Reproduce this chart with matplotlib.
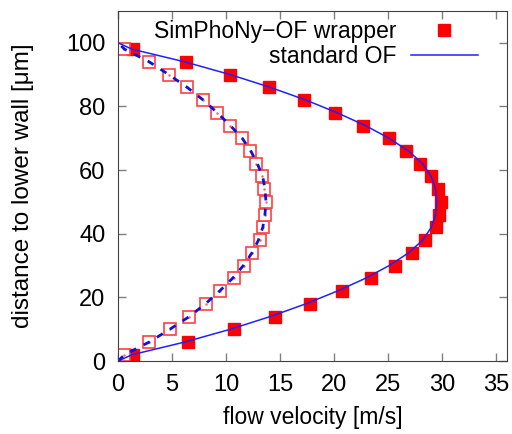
import matplotlib
matplotlib.use("Agg")
import matplotlib.pyplot as plt

plt.rcParams["font.family"] = ["Liberation Sans", "DejaVu Sans"]

# wall distance of the sampled cells [um]
y_pts = [2, 6, 10, 14, 18, 22, 26, 30, 34, 38, 42, 46, 50,
         54, 58, 62, 66, 70, 74, 78, 82, 86, 90, 94, 98]

# SimPhoNy-OF wrapper, fast case (filled squares)
u_fast = [1.4, 6.5, 10.7, 14.5, 17.8, 20.7, 23.4, 25.6, 27.2, 28.4, 29.4, 29.7, 29.9,
          29.6, 29.0, 28.0, 26.7, 25.1, 22.7, 20.1, 17.2, 14.0, 10.4, 6.3, 1.4]
# SimPhoNy-OF wrapper, slow case (open squares)
u_slow = [0.6, 2.9, 4.8, 6.6, 8.1, 9.4, 10.7, 11.7, 12.4, 13.1, 13.4, 13.6, 13.7,
          13.5, 13.3, 12.8, 12.2, 11.5, 10.4, 9.2, 7.9, 6.4, 4.7, 2.9, 0.6]

# standard OF lines (wall values included)
y_line = [0] + y_pts + [100]
u_line_fast = [0.0, 1.3, 6.2, 10.4, 14.1, 17.4, 20.3, 22.9, 25.1, 26.9, 28.2, 29.0, 29.4, 29.5,
               29.4, 29.0, 28.2, 26.9, 25.1, 22.9, 20.3, 17.4, 14.1, 10.4, 6.2, 1.3, 0.0]
u_line_slow = [0.0, 0.6, 2.9, 4.8, 6.6, 8.1, 9.4, 10.6, 11.6, 12.4, 13.0, 13.4, 13.6, 13.7,
               13.6, 13.4, 12.9, 12.3, 11.5, 10.4, 9.2, 7.9, 6.4, 4.7, 2.9, 0.6, 0.0]

fig = plt.figure(figsize=(5.12, 4.34), dpi=100)
ax = fig.add_axes([0.2305, 0.168, 0.7595, 0.8067])

ax.plot(u_fast, y_pts, ls="none", marker="s", ms=8.3, mfc="#ff0000", mec="#ff0000",
        label="SimPhoNy\u2212OF wrapper")
ax.plot(u_slow, y_pts, ls="none", marker="s", ms=8.5, mfc="white", mec="#ff4040",
        mew=1.2)
ax.plot(u_slow, y_pts, ls="none", marker=".", ms=1.5, color="#ff6060")
ax.plot(u_line_fast, y_line, color="#2020ff", lw=1.1, label="standard OF")
ax.plot(u_line_slow, y_line, color="#1010d8", lw=2, ls=(0, (2.5, 3)))

ax.set_xlim(0, 36)
ax.set_ylim(0, 110)
ax.set_xticks(range(0, 36, 5))
ax.set_yticks(range(0, 101, 20))
ax.tick_params(direction="in", length=6, width=1, color="#808080", labelsize=17,
               top=True, right=True, pad=9)
for s in ax.spines.values():
    s.set_color("#404040")

ax.set_xlabel("flow velocity [m/s]", fontsize=16.5)
ax.set_ylabel("distance to lower wall [\u03bcm]", fontsize=17.5)
ax.xaxis.set_label_coords(0.5, -0.16)
ax.yaxis.set_label_coords(-0.244, 0.5)
ax.xaxis.label.set_va("center")
ax.yaxis.label.set_va("center")

ax.legend(loc="upper right", frameon=False, markerfirst=False, fontsize=16.5,
          handlelength=2.9, borderaxespad=0, labelspacing=0.1, handletextpad=0.65,
          bbox_to_anchor=(0.9486, 1.0))

fig.savefig("out.png", dpi=100)
